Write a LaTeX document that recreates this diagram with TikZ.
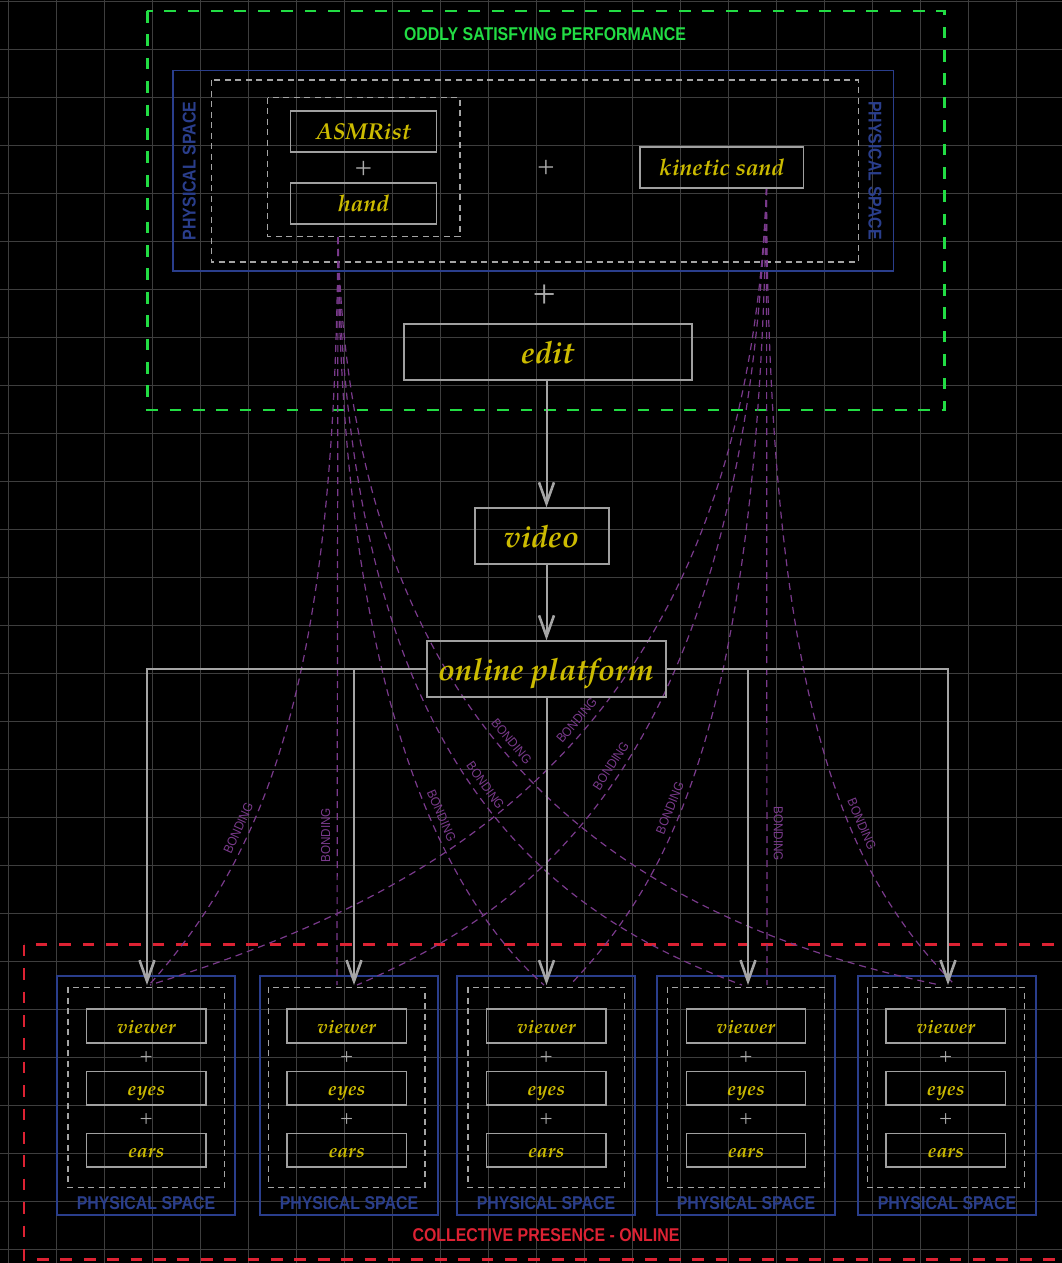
\documentclass[tikz,border=0pt]{standalone}
\usepackage{fontspec}
\usetikzlibrary{arrows.meta,calc}
\newfontfamily\sansc{Liberation Sans}[FakeStretch=0.86]
\newfontfamily\sanst{Liberation Sans}[FakeStretch=0.9]
\newfontfamily\palit{texgyrepagella-bolditalic.otf}
\newfontfamily\palrm{texgyrepagella-regular.otf}
\definecolor{gridc}{RGB}{62,62,62}
\definecolor{grn}{RGB}{34,221,68}
\definecolor{blu}{RGB}{42,62,140}
\definecolor{redc}{RGB}{221,34,51}
\definecolor{yel}{RGB}{204,187,0}
\definecolor{boxgray}{RGB}{160,160,160}
\definecolor{dashgray}{RGB}{165,165,165}
\definecolor{plusgray}{RGB}{170,170,170}
\definecolor{arrowgray}{RGB}{165,165,165}
\definecolor{purp}{RGB}{122,58,140}
\begin{document}
\begin{tikzpicture}[x=1pt,y=-1pt,
  gridline/.style={draw=gridc, line width=1pt},
  greendash/.style={draw=grn, line width=2.6pt, dash pattern=on 11.7pt off 11.7pt},
  reddash/.style={draw=redc, line width=2.6pt, dash pattern=on 11.7pt off 11.7pt},
  bluebox/.style={draw=blu, line width=1.6pt},
  graydash/.style={draw=dashgray, line width=1.2pt, dash pattern=on 6pt off 4.5pt},
  item/.style={draw=boxgray, line width=1.5pt, text=yel, inner sep=0pt,
    minimum height=41pt, minimum width=145.6pt, text height=16.8pt, text depth=0pt,
    font=\palit\fontsize{23}{23}\selectfont},
  bigitem/.style={item, minimum height=56pt, text height=22.5pt,
    font=\palit\fontsize{30.8}{31}\selectfont},
  smallitem/.style={item, minimum width=119.3pt, minimum height=33.7pt, text height=14.2pt,
    font=\palit\fontsize{19.4}{20}\selectfont},
  plus/.style={text=plusgray, inner sep=0pt, font=\palrm\fontsize{24}{24}\selectfont},
  smallplus/.style={plus, font=\palrm\fontsize{18}{18}\selectfont},
  bigplus/.style={plus, font=\palrm\fontsize{32}{32}\selectfont},
  caplabel/.style={inner sep=0pt, font=\sansc\bfseries\fontsize{18.5}{18.5}\selectfont},
  bluelabel/.style={caplabel, text=blu},
  conn/.style={draw=arrowgray, line width=2pt,
    -{Straight Barb[length=21pt,width=15pt,line width=2.6pt]}},
  bond/.style={draw=purp, line width=1.2pt, dash pattern=on 7pt off 5pt},
  blabel/.style={sloped, above=3pt, text=purp, inner sep=3.3pt,
    font=\sanst\fontsize{13}{13}\selectfont}
]
% canvas and grid
\clip (0,0) rectangle (1062,1263);
\fill[black] (0,0) rectangle (1062,1263);
\foreach \i in {0,...,21} \draw[gridline] ({8.3+48*\i},0) -- ({8.3+48*\i},1263);
\foreach \j in {0,...,26} \draw[gridline] (0,{1.7+48*\j}) -- (1062,{1.7+48*\j});

% ---------- top: performance ----------
\draw[greendash] (147.3,11) rectangle (944.3,410);
\node[caplabel, text=grn] (title) at (545,33.7) {ODDLY SATISFYING PERFORMANCE};
\draw[bluebox] (172.7,70.7) rectangle (893.3,270.7);
\draw[graydash] (211.7,80) rectangle (858.3,262);
\draw[graydash] (267.7,97.7) rectangle (460,236.5);
\node[bluelabel, rotate=90] (psl) at (189.3,171) {PHYSICAL SPACE};
\node[bluelabel, rotate=-90] (psr) at (875,170.5) {PHYSICAL SPACE};

% ---------- bottom: collective presence ----------
\draw[reddash] (24,944.7) rectangle (1090,1259.3);
\node[caplabel, text=redc] (cpo) at (546,1235) {COLLECTIVE PRESENCE - ONLINE};
\foreach \cx/\bx/\n in {146.3/146/1,346.7/349/2,546.3/546/3,746/746/4,945.8/947/5}{
  \draw[bluebox] (\bx-89.2,975.7) rectangle (\bx+89.2,1215);
  \draw[graydash] (\cx-78.3,987.3) rectangle (\cx+78.3,1187.7);
  \node[bluelabel] (ps\n) at (\bx,1203) {PHYSICAL SPACE};
}

% ---------- bonding curves ----------
\coordinate (hs) at (338,237);
\coordinate (ks) at (766.5,188);
\coordinate (h1e) at (149,985);
\coordinate (h2e) at (337,985);
\coordinate (h3e) at (544,985);
\coordinate (h4e) at (742,985);
\coordinate (h5e) at (940,985);
\coordinate (k1e) at (150,985);
\coordinate (k2e) at (357,985);
\coordinate (k3e) at (570,985);
\coordinate (k4e) at (767,985);
\coordinate (k5e) at (955,985);

\draw[bond] (hs) .. controls (335,637) and (284,835) .. (h1e) node[blabel,pos=0.7]{BONDING};
\draw[bond] (hs) -- (h2e) node[blabel,pos=0.8]{BONDING};
\draw[bond] (hs) .. controls (340,650) and (425,880) .. (h3e) node[blabel,pos=0.64]{BONDING};
\draw[bond] (hs) .. controls (345,760) and (540,910) .. (h4e) node[blabel,pos=0.52]{BONDING};
\draw[bond] (hs) .. controls (350,700) and (580,910) .. (h5e) node[blabel,pos=0.49,above=0.5pt]{BONDING};
\draw[bond] (ks) .. controls (745,750) and (420,900) .. (k1e) node[blabel,pos=0.45,above=0.5pt]{BONDING};
\draw[bond] (ks) .. controls (745,760) and (535,908) .. (k2e) node[blabel,pos=0.5]{BONDING};
\draw[bond] (ks) .. controls (760,720) and (670,880) .. (k3e) node[blabel,pos=0.6]{BONDING};
\draw[bond] (ks) -- (k4e) node[blabel,pos=0.81]{BONDING};
\draw[bond] (ks) .. controls (768,720) and (850,878) .. (k5e) node[blabel,pos=0.63,above=0.5pt]{BONDING};

% ---------- items ----------
\node[item] (asmr) at (363.5,131.3) {ASMRist};
\node[plus] (p1) at (363.5,168) {+};
\node[item] (hand) at (363.5,203.5) {hand};
\node[plus] (p2) at (546,167) {+};
\node[item, minimum width=163.3pt] (sand) at (721.7,167.3) {kinetic sand};
\node[bigplus] (p3) at (545,294) {+};
\node[bigitem, minimum width=288pt] (edit) at (548,352) {edit};
\node[bigitem, minimum width=134pt] (vid) at (542,536) {video};
\node[bigitem, minimum width=239pt] (pf) at (546.5,669) {online platform};

\foreach \cx/\n in {146.3/1,346.7/2,546.3/3,746/4,945.8/5}{
  \node[smallitem] (viewer\n) at (\cx,1025.9) {viewer};
  \node[smallplus] (pa\n) at (\cx,1057.3) {+};
  \node[smallitem] (eyes\n) at (\cx,1088.3) {eyes};
  \node[smallplus] (pb\n) at (\cx,1119.3) {+};
  \node[smallitem] (ears\n) at (\cx,1150.3) {ears};
}

% ---------- flow arrows ----------
\coordinate (t1) at (147,985);
\coordinate (t2) at (354,985);
\coordinate (t3) at (546.5,985);
\coordinate (t4) at (748,985);
\coordinate (t5) at (948,985);
\draw[conn] (edit.south -| pf.center) -- (vid.north -| pf.center);
\draw[conn] (vid.south -| pf.center) -- (pf.north);
\draw[conn] (pf.west) -| (t1);
\draw[conn] (pf.west) -| (t2);
\draw[conn] (pf.south) -- (t3);
\draw[conn] (pf.east) -| (t4);
\draw[conn] (pf.east) -| (t5);
\end{tikzpicture}
\end{document}
